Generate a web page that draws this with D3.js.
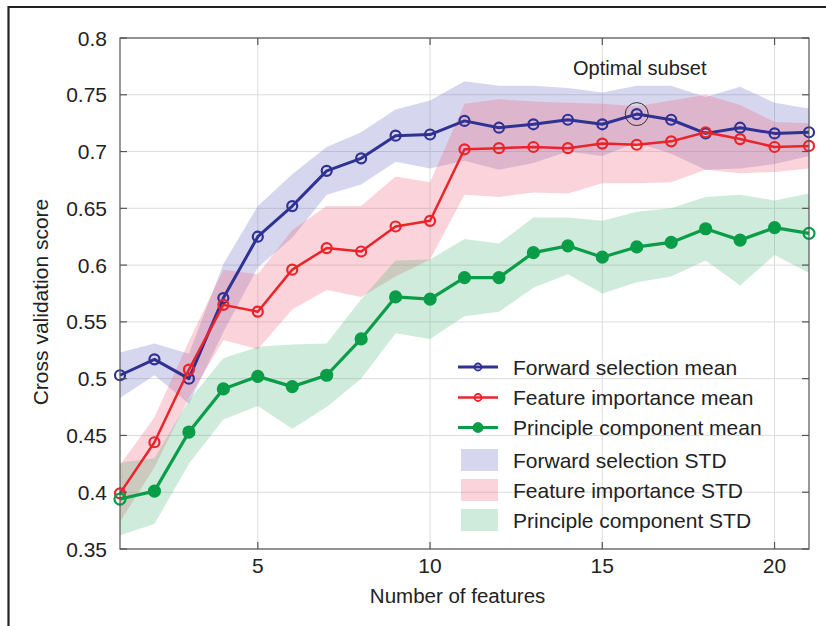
<!DOCTYPE html>
<html>
<head>
<meta charset="utf-8">
<script src="https://cdn.jsdelivr.net/npm/d3@7"></script>
<style>
  html, body { margin: 0; padding: 0; background: #fff; }
  svg { display: block; font-family: "Liberation Sans", Arial, Helvetica, sans-serif; }
</style>
</head>
<body>
<svg id="chart" width="826" height="626"></svg>
<script>
// Number of features evaluated
const features = d3.range(1, 22);

// Mean cross-validation scores
const forwardMean = [0.503, 0.517, 0.500, 0.571, 0.625, 0.652, 0.683, 0.694, 0.714, 0.715, 0.727,
                     0.721, 0.724, 0.728, 0.724, 0.733, 0.728, 0.716, 0.721, 0.716, 0.717];
const importanceMean = [0.399, 0.444, 0.508, 0.565, 0.559, 0.596, 0.615, 0.612, 0.634, 0.639, 0.702,
                        0.703, 0.704, 0.703, 0.707, 0.706, 0.709, 0.717, 0.711, 0.704, 0.705];
const pcaMean = [0.394, 0.401, 0.453, 0.491, 0.502, 0.493, 0.503, 0.535, 0.572, 0.570, 0.589,
                 0.589, 0.611, 0.617, 0.607, 0.616, 0.620, 0.632, 0.622, 0.633, 0.628];

// Standard deviations across folds
const forwardStd = [0.020, 0.014, 0.022, 0.030, 0.027, 0.028, 0.021, 0.023, 0.023, 0.030, 0.035,
                    0.037, 0.034, 0.028, 0.028, 0.025, 0.030, 0.032, 0.036, 0.027, 0.021];
const importanceStd = [0.025, 0.022, 0.025, 0.031, 0.033, 0.035, 0.037, 0.040, 0.044, 0.034, 0.040,
                       0.043, 0.040, 0.040, 0.035, 0.034, 0.036, 0.033, 0.030, 0.022, 0.020];
const pcaStd = [0.032, 0.029, 0.028, 0.027, 0.026, 0.037, 0.028, 0.035, 0.032, 0.035, 0.034,
                0.030, 0.031, 0.025, 0.032, 0.031, 0.030, 0.028, 0.040, 0.024, 0.035];

const xTicks = [5, 10, 15, 20];
const yTicks = [0.35, 0.4, 0.45, 0.5, 0.55, 0.6, 0.65, 0.7, 0.75, 0.8];

const optimalFeatures = 16;

const series = [
  { name: "Forward selection", mean: forwardMean, std: forwardStd,
    line: "#2f3193", band: "#5a5fc0", bandOpacity: 0.25, filled: false, width: 3 },
  { name: "Feature importance", mean: importanceMean, std: importanceStd,
    line: "#ec2329", band: "#f0607a", bandOpacity: 0.28, filled: false, width: 2.5 },
  { name: "Principle component", mean: pcaMean, std: pcaStd,
    line: "#0a9d48", band: "#40b070", bandOpacity: 0.25, filled: true, width: 3.2 }
];

const svg = d3.select("#chart");
const margin = { left: 120, top: 38, right: 17, bottom: 77 };
const W = 826, H = 626;
const iw = W - margin.left - margin.right;
const ih = H - margin.top - margin.bottom;

// outer frame edges
svg.append("line").attr("x1", 8).attr("x2", W).attr("y1", 7).attr("y2", 7)
  .attr("stroke", "#222").attr("stroke-width", 2.2);
svg.append("line").attr("x1", 8.5).attr("x2", 8.5).attr("y1", 6).attr("y2", H)
  .attr("stroke", "#222").attr("stroke-width", 2.2);

const g = svg.append("g").attr("transform", `translate(${margin.left},${margin.top})`);

const x = d3.scaleLinear().domain([1, 21]).range([0, iw]);
const y = d3.scaleLinear().domain([0.35, 0.8]).range([ih, 0]);

// grid
g.append("g").selectAll("line").data(yTicks).join("line")
  .attr("x1", 0).attr("x2", iw).attr("y1", d => y(d)).attr("y2", d => y(d))
  .attr("stroke", "#dcdcdc").attr("stroke-width", 1);
g.append("g").selectAll("line").data(xTicks).join("line")
  .attr("y1", 0).attr("y2", ih).attr("x1", d => x(d)).attr("x2", d => x(d))
  .attr("stroke", "#dcdcdc").attr("stroke-width", 1);

svg.append("defs").append("clipPath").attr("id", "plotclip")
  .append("rect").attr("width", iw).attr("height", ih);

const plot = g.append("g").attr("clip-path", "url(#plotclip)");

// std bands
const area = d3.area()
  .x((d, i) => x(features[i]))
  .y0(d => y(d[0] - d[1]))
  .y1(d => y(d[0] + d[1]));

series.forEach(s => {
  const pts = s.mean.map((m, i) => [m, s.std[i]]);
  plot.append("path").datum(pts)
    .attr("d", area)
    .attr("fill", s.band).attr("fill-opacity", s.bandOpacity);
});

// mean lines with markers
const line = d3.line().x((d, i) => x(features[i])).y(d => y(d));

series.forEach(s => {
  g.append("path").datum(s.mean)
    .attr("d", line).attr("fill", "none")
    .attr("stroke", s.line).attr("stroke-width", s.width).attr("stroke-linejoin", "round");
  g.append("g").selectAll("circle").data(s.mean).join("circle")
    .attr("cx", (d, i) => x(features[i])).attr("cy", d => y(d))
    .attr("r", s.filled ? 5.5 : 5)
    .attr("fill", (d, i) => (s.filled && i > 0 && i < s.mean.length - 1) ? s.line : "none")
    .attr("stroke", s.line).attr("stroke-width", 2.2);
});

// axes box
g.append("rect").attr("width", iw).attr("height", ih)
  .attr("fill", "none").attr("stroke", "#555").attr("stroke-width", 1.2);

const tickLen = 7;
const ticks = g.append("g").attr("stroke", "#555").attr("stroke-width", 1.2);
ticks.selectAll(".xb").data(xTicks).join("line")
  .attr("x1", d => x(d)).attr("x2", d => x(d)).attr("y1", ih).attr("y2", ih - tickLen);
ticks.selectAll(".xt").data(xTicks).join("line")
  .attr("x1", d => x(d)).attr("x2", d => x(d)).attr("y1", 0).attr("y2", tickLen);
ticks.selectAll(".yl").data(yTicks).join("line")
  .attr("y1", d => y(d)).attr("y2", d => y(d)).attr("x1", 0).attr("x2", tickLen);
ticks.selectAll(".yr").data(yTicks).join("line")
  .attr("y1", d => y(d)).attr("y2", d => y(d)).attr("x1", iw).attr("x2", iw - tickLen);

// tick labels
g.append("g").selectAll("text").data(yTicks).join("text")
  .attr("x", -13).attr("y", d => y(d) + 7.5)
  .attr("text-anchor", "end").attr("font-size", 21).attr("fill", "#222")
  .text(d => String(d));
g.append("g").selectAll("text").data(xTicks).join("text")
  .attr("x", d => x(d)).attr("y", ih + 24)
  .attr("text-anchor", "middle").attr("font-size", 21).attr("fill", "#222")
  .text(d => String(d));

// axis titles
svg.append("text").attr("x", margin.left + x(10.8)).attr("y", 603)
  .attr("text-anchor", "middle").attr("font-size", 20.5).attr("fill", "#222")
  .text("Number of features");
svg.append("text").attr("transform", "translate(48,302) rotate(-90)")
  .attr("text-anchor", "middle").attr("font-size", 21).attr("fill", "#222")
  .text("Cross validation score");

// optimal subset marker
const oi = features.indexOf(optimalFeatures);
g.append("circle").attr("cx", x(optimalFeatures)).attr("cy", y(forwardMean[oi]))
  .attr("r", 11.5).attr("fill", "none").attr("stroke", "#333").attr("stroke-width", 1);
g.append("text").attr("x", x(optimalFeatures) + 3).attr("y", 37)
  .attr("text-anchor", "middle").attr("font-size", 20).attr("fill", "#222")
  .text("Optimal subset");

// legend
const legend = svg.append("g");
const lx = 458, textX = 513;
const lineRows = [367, 397.5, 427.5];
const patchRows = [460, 490, 520];
series.forEach((s, i) => {
  const cy = lineRows[i];
  legend.append("line").attr("x1", lx).attr("x2", lx + 40).attr("y1", cy).attr("y2", cy)
    .attr("stroke", s.line).attr("stroke-width", s.width);
  legend.append("circle").attr("cx", lx + 20).attr("cy", cy).attr("r", s.filled ? 4.5 : 3.5)
    .attr("fill", s.filled ? s.line : "none").attr("stroke", s.line).attr("stroke-width", 1.8);
  legend.append("text").attr("x", textX).attr("y", cy + 7.5)
    .attr("font-size", 21).attr("fill", "#222").text(s.name + " mean");
});
series.forEach((s, i) => {
  const cy = patchRows[i];
  legend.append("rect").attr("x", lx + 3).attr("y", cy - 11).attr("width", 37).attr("height", 22)
    .attr("fill", s.band).attr("fill-opacity", s.bandOpacity);
  legend.append("text").attr("x", textX).attr("y", cy + 7.5)
    .attr("font-size", 21).attr("fill", "#222").text(s.name + " STD");
});
</script>
</body>
</html>
